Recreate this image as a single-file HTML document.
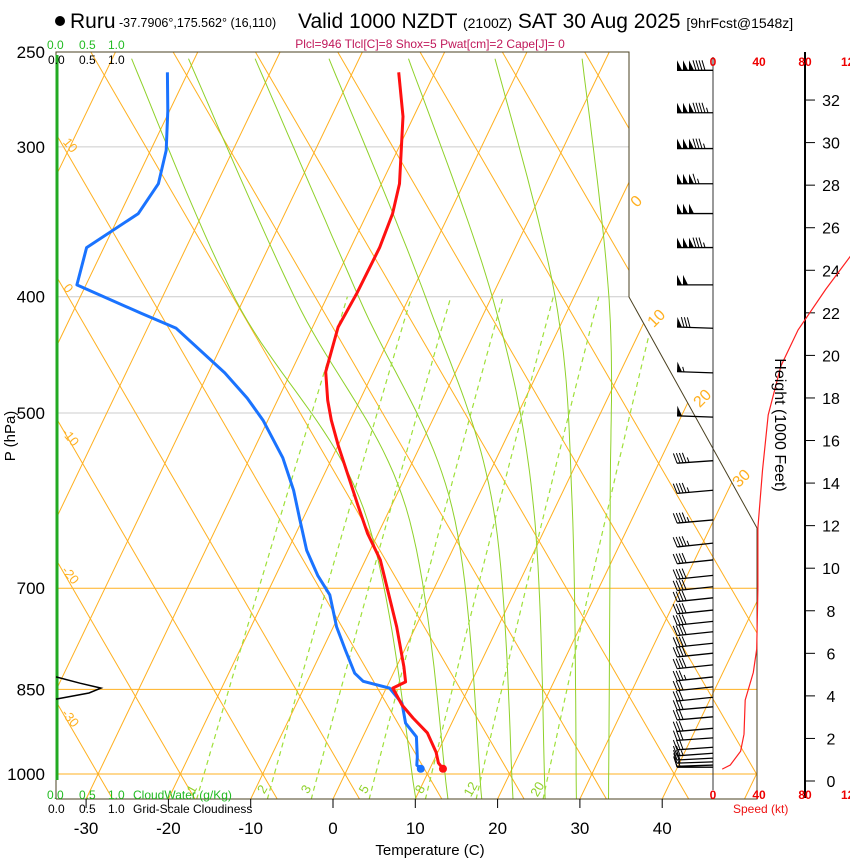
<!DOCTYPE html>
<html><head><meta charset="utf-8">
<style>
html,body{margin:0;padding:0;background:#fff;}
svg{display:block;font-family:"Liberation Sans",Arial,sans-serif;}
</style></head>
<body>
<svg id="chart" width="850" height="860" viewBox="0 0 850 860" xmlns="http://www.w3.org/2000/svg">
<defs><clipPath id="plotclip"><polygon points="56,52 629,52 629,297 757,528 757,799 56,799"/></clipPath></defs>
<rect x="0" y="0" width="850" height="860" fill="#fff"/>
<g id="grid" clip-path="url(#plotclip)"></g>
<g id="profiles" clip-path="url(#plotclip)"></g>
<g id="overlay"></g>
<g>
<circle cx="60" cy="21" r="5" fill="#000"/>
<text x="70" y="28" font-size="21">Ruru</text>
<text x="119" y="27" font-size="12.5">-37.7906°,175.562° (16,110)</text>
<text x="298" y="28" font-size="21">Valid 1000 NZDT <tspan font-size="14">(2100Z)</tspan> SAT 30 Aug 2025 <tspan font-size="14">[9hrFcst@1548z]</tspan></text>
<text x="430" y="48" font-size="12" fill="#c0185a" text-anchor="middle">Plcl=946 Tlcl[C]=8 Shox=5 Pwat[cm]=2 Cape[J]= 0</text>
<text x="47" y="49" font-size="12" fill="#22bb22">0.0 <tspan x="79">0.5</tspan><tspan x="108">1.0</tspan></text>
<text x="48" y="64" font-size="12" fill="#000">0.0 <tspan x="79">0.5</tspan><tspan x="108">1.0</tspan></text>
<text x="47" y="799" font-size="12" fill="#22bb22">0.0 <tspan x="79">0.5</tspan><tspan x="108">1.0</tspan><tspan x="133">CloudWater (g/Kg)</tspan></text>
<text x="48" y="813" font-size="12" fill="#000">0.0 <tspan x="79">0.5</tspan><tspan x="108">1.0</tspan><tspan x="133">Grid-Scale Cloudiness</tspan></text>
<text x="430" y="855" font-size="15" text-anchor="middle">Temperature (C)</text>
<text transform="translate(15,436) rotate(-90)" font-size="15" text-anchor="middle">P (hPa)</text>
<text transform="translate(775,425) rotate(90)" font-size="16" text-anchor="middle">Height (1000 Feet)</text>
<text x="733" y="813" font-size="12" fill="#ee1111">Speed (kt)</text>
</g>
</svg>
<script>
// ---------- data ----------
const tempP = [260,283,322,341,364,397,424,462,488,507,532,563,597,630,663,754,814,838,848,876,898,924,959,979,990];
const tempC = [-34.4,-31.3,-27.8,-26.9,-26.5,-26.6,-26.9,-25.8,-23.9,-22.3,-20.0,-17.1,-14.1,-11.3,-8.2,-2.3,0.9,2.0,0.8,2.9,5.0,7.6,9.8,10.7,11.6];
const dewP = [260,280,302,322,341,364,391,413,425,463,486,507,545,580,614,651,683,709,754,788,824,837,848,873,907,931,968,983,990];
const dewC = [-62.5,-60.2,-58.1,-57.1,-57.8,-62.1,-61.1,-51.6,-46.5,-38.0,-33.8,-30.6,-26.0,-22.8,-20.3,-17.7,-14.9,-12.3,-9.6,-7.2,-4.7,-3.2,0.4,2.8,4.4,6.5,7.8,8.2,8.9];
const windP = [259,281,301,322,341,364,391,425,463,504,548,580,614,642,663,683,698,713,730,746,761,778,793,811,830,846,863,879,896,916,933,950,961,970,977,983,987];
const windSpd = [190,195,185,165,150,185,100,80,55,50,45,45,45,45,40,40,40,40,40,40,40,40,38,38,35,32,30,30,30,30,30,28,25,22,18,15,10];
const windDir = [270,270,270,270,270,270,270,272,272,272,266,265,265,264,264,264,264,264,264,264,264,264,264,264,264,264,264,265,265,265,266,266,266,267,268,268,270];
const hgtKft = [0.56,0.75,1.4,2.2,3.8,5.1,6.2,9.0,11.9,14.6,17.2,19.5,21.2,23.1,24.7,26.5];
const hgtSpd = [8,15,24,27,28,35,38,39,39,43,48,59,74,98,120,140];
const cloudP = [830,840,848,856,866];
const cloudFrac = [0,0.4,0.75,0.55,0];
const isoTemps = [-110,-100,-90,-80,-70,-60,-50,-40,-30,-20,-10,0,10,20,30,40,50];
const dryThetas = [-40,-30,-20,-10,0,10,20,30,40,50,60,70,80,90,100,110,120,130,140,150,160];
const moistLevels = [1050,600,402,250];
const moistA = [10.1,-13.3,-41.0,-68.4];
const moistB = [14.0,-8.1,-33.7,-61.5];
const moistC = [18.1,-2.5,-25.9,-53.4];
const moistD = [21.9,2.5,-17.8,-44.4];
const moistE = [25.8,7.4,-9.7,-34.7];
const moistF = [29.6,12.1,-2.1,-24.1];
const moistG = [33.5,16.7,4.4,-13.4];
const mixRatios = [1,2,3,5,8,12,20];
const xTicks = [-30,-20,-10,0,10,20,30,40];
const pLabels = [250,300,400,500,700,850,1000];
const hTicks = [0,2,4,6,8,10,12,14,16,18,20,22,24,26,28,30,32];
const spdTicks = [0,40,80,120];

// ---------- axes ----------
const NS='http://www.w3.org/2000/svg';
function Y(p){return 774-520.9*Math.log(1000/p);}
function X(T,p){return 333+8.23*T+0.48*(799-Y(p));}
function HY(h){return 781-21.28*h;}
function SX(s){return 713+1.15*s;}
function mk(tag,attrs,parent){const e=document.createElementNS(NS,tag);for(const k in attrs)e.setAttribute(k,attrs[k]);parent.appendChild(e);return e;}
const grid=document.getElementById('grid'),prof=document.getElementById('profiles'),ov=document.getElementById('overlay');
const ORANGE='#ffb020',GREEN='#8fd12a';
function poly(pts){return pts.map(q=>q[0].toFixed(1)+','+q[1].toFixed(1)).join(' ');}

[[300,'#cccccc'],[400,'#cccccc'],[500,'#cccccc'],[700,ORANGE],[850,ORANGE],[1000,ORANGE]].forEach(a=>{
  const l=mk('line',{x1:56,x2:760,y1:Y(a[0]),y2:Y(a[0]),stroke:a[1],'stroke-width':1},grid);
  
  
});
isoTemps.forEach(T=>{
  const l=mk('line',{x1:X(T,1050),y1:Y(1050),x2:X(T,250),y2:Y(250),stroke:ORANGE,'stroke-width':1},grid);
  
  
});
// dry adiabats (straight approximation)
dryThetas.forEach(th=>{
  const x0=X(th,1000);
  const l=mk('line',{x1:x0+0.58*25,y1:799,x2:x0-0.58*(774-52),y2:52,stroke:ORANGE,'stroke-width':1},grid);
  
  
});
// moist adiabats via Catmull-Rom in (T, y)
[moistA,moistB,moistC,moistD,moistE,moistF,moistG].forEach((arr,k)=>{
  const P=moistLevels.map((p,i)=>[X(arr[i],p),Y(p)]);
  const pts=[];
  for(let i=0;i<P.length-1;i++){
    const p0=P[Math.max(i-1,0)],p1=P[i],p2=P[i+1],p3=P[Math.min(i+2,P.length-1)];
    for(let t=0;t<=1;t+=0.05){const t2=t*t,t3=t2*t;
      pts.push([0.5*((2*p1[0])+(-p0[0]+p2[0])*t+(2*p0[0]-5*p1[0]+4*p2[0]-p3[0])*t2+(-p0[0]+3*p1[0]-3*p2[0]+p3[0])*t3),
                0.5*((2*p1[1])+(-p0[1]+p2[1])*t+(2*p0[1]-5*p1[1]+4*p2[1]-p3[1])*t2+(-p0[1]+3*p1[1]-3*p2[1]+p3[1])*t3)]);}
  }
  const l=mk('polyline',{points:poly(pts),fill:'none',stroke:GREEN,'stroke-width':1},grid);
  
  
});
function tdFromW(w,p){const e=w*p/(622+w);const a=Math.log(e/6.112);return 243.5*a/(17.67-a);}
mixRatios.forEach(w=>{
  const pts=[];for(let p=1050;p>=400;p-=10)pts.push([X(tdFromW(w,p),p),Y(p)]);
  const l=mk('polyline',{points:poly(pts),fill:'none',stroke:'#9fe03a','stroke-width':1.2,'stroke-dasharray':'5,4'},grid);
  
  
  const px=X(tdFromW(w,1030),1030)-4,py=Y(1030)+2;
  const t=mk('text',{x:px,y:py,'font-size':13,fill:GREEN,'text-anchor':'middle',transform:'rotate(-60 '+px+' '+py+')'},ov);
  t.textContent=w;
  
  
});
function line(ps,ts,color,name){
  const pts=ps.map((p,i)=>[X(ts[i],p),Y(p)]);
  const l=mk('polyline',{points:poly(pts),fill:'none',stroke:color,'stroke-width':3,'stroke-linejoin':'round'},prof);
  
  
  const last=pts[pts.length-1];
  const c=mk('circle',{cx:last[0],cy:last[1],r:4,fill:color},prof);
  
  
}
line(dewP,dewC,'#1a73ff','dewpoint-profile');
line(tempP,tempC,'#ff1010','temperature-profile');

const fr=mk('polyline',{points:'56,799 56,52 629,52 629,297 757,528 757,799 56,799',fill:'none',stroke:'#4a4020','stroke-width':1},ov);


const gax=mk('line',{x1:57,y1:55,x2:57,y2:780,stroke:'#22aa22','stroke-width':3},ov);


const cpts=cloudP.map((p,i)=>[56+60*cloudFrac[i],Y(p)]);
const cl=mk('polyline',{points:poly(cpts),fill:'none',stroke:'#000','stroke-width':1.5},ov);



pLabels.forEach(p=>{
  const t=mk('text',{x:45,y:Y(p)+6,'font-size':17,'text-anchor':'end'},ov);
  t.textContent=p;
  
  
});
xTicks.forEach(T=>{
  const x=333+8.23*T;
  const tk=mk('line',{x1:x,x2:x,y1:799,y2:808,stroke:'#000'},ov);
  
  
  const t=mk('text',{x:x,y:834,'font-size':17,'text-anchor':'middle'},ov);
  t.textContent=T;
  
  
});
[[0,640,205],[10,660,322],[20,706,402],[30,745,482]].forEach(a=>{
  const t=mk('text',{x:a[1],y:a[2],'font-size':16,fill:ORANGE,'text-anchor':'middle',transform:'rotate(-45 '+a[1]+' '+a[2]+')'},ov);
  t.textContent=a[0];
  
  
});
[[10,67,148],[0,65,291],[-10,67,440],[-20,67,578],[-30,67,721]].forEach(a=>{
  const t=mk('text',{x:a[1],y:a[2],'font-size':13,fill:ORANGE,'text-anchor':'middle',transform:'rotate(50 '+a[1]+' '+a[2]+')'},ov);
  t.textContent=a[0];
  
  
});

const staff=mk('line',{x1:713,y1:57,x2:713,y2:790,stroke:'#333','stroke-width':1},ov);


windP.forEach((p,i)=>{
  const y0=Y(p),d=windDir[i]*Math.PI/180,L=36;
  const ux=Math.sin(d),uy=-Math.cos(d);
  const ex=713+ux*L,ey=y0+uy*L;
  const g=mk('g',{},ov);
  
  
  mk('line',{x1:713,y1:y0,x2:ex,y2:ey,stroke:'#000','stroke-width':1.3},g);
  let s=Math.round(windSpd[i]/5)*5,pos=0;
  const px=uy,py=-ux;
  const sgn=(py>0)?-1:1;
  while(s>=50){const bx=ex-ux*pos,by=ey-uy*pos;
    mk('polygon',{points:poly([[bx,by],[bx+sgn*px*10,by+sgn*py*10],[bx-ux*5,by-uy*5]]),fill:'#000'},g);pos+=6;s-=50;}
  if(pos>0)pos+=1;
  while(s>=10){const bx=ex-ux*pos,by=ey-uy*pos;
    mk('line',{x1:bx,y1:by,x2:bx+sgn*px*10+ux*3,y2:by+sgn*py*10+uy*3,stroke:'#000','stroke-width':1},g);pos+=3;s-=10;}
  if(s>=5){const bx=ex-ux*pos,by=ey-uy*pos;
    mk('line',{x1:bx,y1:by,x2:bx+sgn*px*5+ux*1.5,y2:by+sgn*py*5+uy*1.5,stroke:'#000','stroke-width':1},g);}
});
const hax=mk('line',{x1:805,y1:52,x2:805,y2:798,stroke:'#000','stroke-width':2},ov);


hTicks.forEach(h=>{
  const tk=mk('line',{x1:805,x2:815,y1:HY(h),y2:HY(h),stroke:'#000'},ov);
  
  
  const t=mk('text',{x:831,y:HY(h)+6,'font-size':16,'text-anchor':'middle'},ov);
  t.textContent=h;
  
  
});
spdTicks.forEach(s=>{
  [66,799].forEach(yy=>{
    const t=mk('text',{x:SX(s),y:yy,'font-size':12,'font-weight':'bold',fill:'#ee0000','text-anchor':'middle'},ov);
    t.textContent=s;
    
    
  });
});
const sp=mk('polyline',{points:poly(hgtKft.map((h,i)=>[SX(hgtSpd[i]),HY(h)])),fill:'none',stroke:'#ff2020','stroke-width':1.2},ov);


</script>
</body></html>
